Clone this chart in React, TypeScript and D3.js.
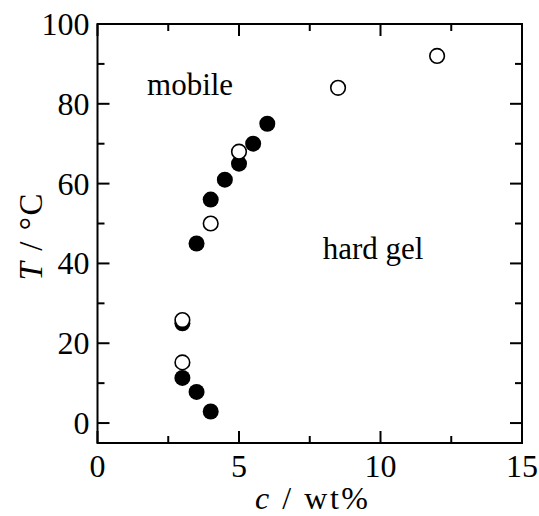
import React from "react";
import * as d3 from "d3";

// Gelation boundary data: concentration c (wt%) vs temperature T (°C)
const filledC = [3.5, 4, 4.5, 5, 5.5, 6, 3, 3, 3.5, 4];
const filledT = [45, 56, 61, 65, 70, 75, 25, 11.3, 7.8, 2.9];
const openC = [4, 5, 8.5, 12, 3, 3];
const openT = [50, 68, 84, 92, 25.8, 15.2];

const xMajorTicks = [0, 5, 10, 15];
const xMinorTicks = [2.5, 7.5, 12.5];
const yMajorTicks = [0, 20, 40, 60, 80, 100];
const yMinorTicks = [10, 30, 50, 70, 90];

const regionLabels = ["mobile", "hard gel"];
const regionC = [1.75, 7.96];
const regionT = [82.2, 41];

const W = 539;
const H = 516;
const left = 97.5;
const right = 522;
const top = 24;
const bottom = 443;

export default function App() {
  const x = d3.scaleLinear().domain([0, 15]).range([left, right]);
  const y = d3.scaleLinear().domain([-5, 100]).range([bottom, top]);
  const font = "Liberation Serif, Tinos, Times, DejaVu Serif, serif";
  const majorLen = 12;
  const minorLen = 7;
  const sw = 2;

  return (
    <svg width={W} height={H} style={{ position: "absolute", left: 0, top: 0 }}>
      <rect x={0} y={0} width={W} height={H} fill="#fff" />
      {/* frame */}
      <rect x={left} y={top} width={right - left} height={bottom - top} fill="none" stroke="#000" strokeWidth={sw} />
      {/* x ticks, bottom and top */}
      {xMajorTicks.map((t) => (
        <g key={"xM" + t}>
          <line x1={x(t)} x2={x(t)} y1={bottom} y2={bottom - majorLen} stroke="#000" strokeWidth={sw} />
          <line x1={x(t)} x2={x(t)} y1={top} y2={top + majorLen} stroke="#000" strokeWidth={sw} />
          <text x={x(t)} y={bottom + 34} textAnchor="middle" fontFamily={font} fontSize={32}>{t}</text>
        </g>
      ))}
      {xMinorTicks.map((t) => (
        <g key={"xm" + t}>
          <line x1={x(t)} x2={x(t)} y1={bottom} y2={bottom - minorLen} stroke="#000" strokeWidth={sw} />
          <line x1={x(t)} x2={x(t)} y1={top} y2={top + minorLen} stroke="#000" strokeWidth={sw} />
        </g>
      ))}
      {/* y ticks, left and right */}
      {yMajorTicks.map((t) => (
        <g key={"yM" + t}>
          <line x1={left} x2={left + majorLen} y1={y(t)} y2={y(t)} stroke="#000" strokeWidth={sw} />
          <line x1={right} x2={right - majorLen} y1={y(t)} y2={y(t)} stroke="#000" strokeWidth={sw} />
          <text x={left - 8} y={y(t) + 11} textAnchor="end" fontFamily={font} fontSize={32}>{t}</text>
        </g>
      ))}
      {yMinorTicks.map((t) => (
        <g key={"ym" + t}>
          <line x1={left} x2={left + minorLen} y1={y(t)} y2={y(t)} stroke="#000" strokeWidth={sw} />
          <line x1={right} x2={right - minorLen} y1={y(t)} y2={y(t)} stroke="#000" strokeWidth={sw} />
        </g>
      ))}
      {/* data */}
      {filledC.map((c, i) => (
        <circle key={"f" + i} cx={x(c)} cy={y(filledT[i])} r={8} fill="#000" />
      ))}
      {openC.map((c, i) => (
        <circle key={"o" + i} cx={x(c)} cy={y(openT[i])} r={7.3} fill="#fff" stroke="#000" strokeWidth={1.6} />
      ))}
      {/* region labels */}
      {regionLabels.map((s, i) => (
        <text key={s} x={x(regionC[i])} y={y(regionT[i])} fontFamily={font} fontSize={31}>{s}</text>
      ))}
      {/* axis titles */}
      <text x={255} y={509} fontFamily={font} fontSize={32} textLength={113} lengthAdjust="spacing">
        <tspan fontStyle="italic">c</tspan> / wt%
      </text>
      <text transform={`translate(42, 237) rotate(-90)`} textAnchor="middle" fontFamily={font} fontSize={33} textLength={87} lengthAdjust="spacing">
        <tspan fontStyle="italic">T</tspan> / °C
      </text>
    </svg>
  );
}
